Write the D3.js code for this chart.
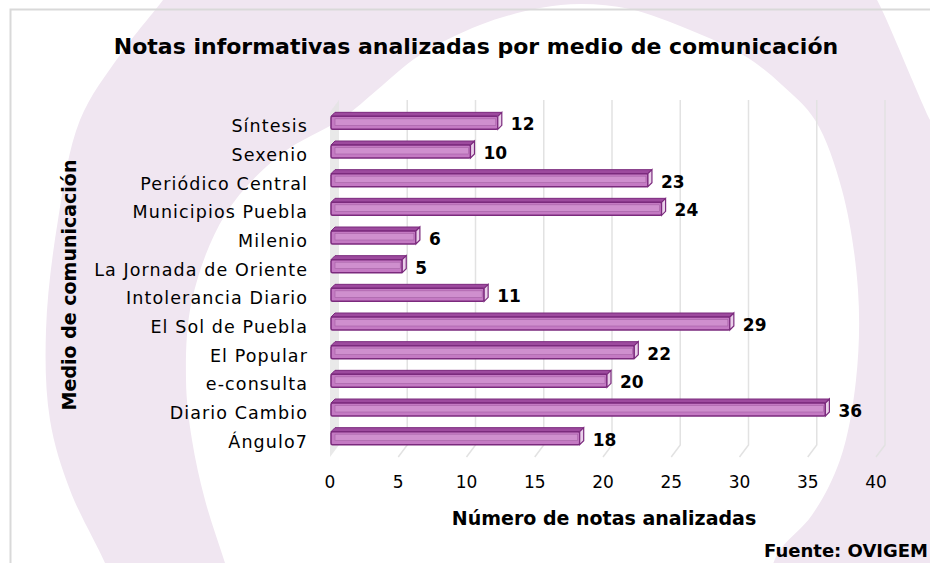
<!DOCTYPE html>
<html><head><meta charset="utf-8">
<script src="https://cdn.jsdelivr.net/npm/d3@7"></script>
<style>body{margin:0;background:#fff}svg{display:block}</style>
</head><body>
<svg id="c" width="930" height="563"></svg>
<script>
const categories = ["Síntesis","Sexenio","Periódico Central","Municipios Puebla","Milenio","La Jornada de Oriente","Intolerancia Diario","El Sol de Puebla","El Popular","e-consulta","Diario Cambio","Ángulo7"];
const values = [12,10,23,24,6,5,11,29,22,20,36,18];
const xTicks = [0,5,10,15,20,25,30,35,40];
const title = "Notas informativas analizadas por medio de comunicación";
const xTitle = "Número de notas analizadas";
const yTitle = "Medio de comunicación";
const source = "Fuente: OVIGEM";

const FONT = "'DejaVu Sans', sans-serif";
const svg = d3.select("#c");

// decorative background ring (watermark)
const lineC = d3.line().curve(d3.curveCatmullRom);
const leftEdge = lineC([[170,-10],[163,0],[120,55],[80,120],[58,220],[46,330],[50,420],[70,490],[105,563],[120,600]]);
const rightEdge = lineC([[960,180],[930,120],[877,0],[870,-10]]).replace(/^M/, "L");
const outer = leftEdge + " L960,600 " + rightEdge + " Z";
const inner = d3.line().curve(d3.curveCatmullRomClosed)([
  [240,610],[225,563],[205,500],[192,440],[186,380],[192,300],[225,215],[280,155],[343,118],[377,90],
  [420,55],[480,25],[540,8],[582,4],[630,9],[690,30],[745,56],[782,85],[815,120],[842,190],[858,290],[856,380],
  [840,460],[812,515],[780,550],[745,610]]);
svg.append("path").attr("d", outer + " " + inner).attr("fill", "#f0e6f1").attr("fill-rule", "evenodd");

// border
svg.append("rect").attr("x",10.5).attr("y",9.5).attr("width",960).attr("height",600)
  .attr("fill","none").attr("stroke","#d9d9d9").attr("stroke-width",2);

const x = d3.scaleLinear().domain([0,40]).range([330,876]);
const y = d3.scaleBand().domain(categories).range([108,452]).padding(0);
const cy = d => y(d) + y.bandwidth()/2;

const DX = 9, DY = 12, TOP = 100, FLOOR = 457;

// left wall
svg.append("path")
  .attr("d", `M${x(0)},${TOP+DY} L${x(0)+DX},${TOP} L${x(0)+DX},${FLOOR-DY} L${x(0)},${FLOOR} Z`)
  .attr("fill","#e4e4e4").attr("opacity",0.8);

// gridlines (back wall + floor)
const g = svg.append("g");
xTicks.forEach(t => {
  if (t === 0) return;
  g.append("path")
    .attr("d", `M${x(t)+DX},${TOP} L${x(t)+DX},${FLOOR-DY} L${x(t)},${FLOOR}`)
    .attr("fill","none").attr("stroke","#e2e2e2").attr("stroke-width",1.5);
});

// bars
const bars = svg.append("g");
categories.forEach((c,i) => {
  const v = values[i];
  const x0 = x(0)+1, x1 = x(v)+4, yc = cy(c);
  const top = yc-6, bot = yc+7, d = 4, e = 4;
  const b = bars.append("g");
  b.append("path").attr("d",`M${x0},${top} L${x0+d},${top-e} L${x1+d},${top-e} L${x1},${top} Z`)
    .attr("fill","#9d4a9e").attr("stroke","#7b2a7d").attr("stroke-width",1);
  b.append("rect").attr("x",x0).attr("y",top).attr("width",x1-x0).attr("height",bot-top).attr("rx",1.5)
    .attr("fill","#c47ac3").attr("stroke","#7b2a7d").attr("stroke-width",1.5);
  b.append("rect").attr("x",x0+4).attr("y",top+2.5).attr("width",Math.max(0,x1-x0-6)).attr("height",6.5)
    .attr("fill","#cf8fce").attr("stroke","#a560a5").attr("stroke-width",0.6);
  b.append("path").attr("d",`M${x1},${top} L${x1+d},${top-e} L${x1+d},${bot-e} L${x1},${bot} Z`)
    .attr("fill","#ead0ea").attr("stroke","#7b2a7d").attr("stroke-width",1.2);
  bars.append("text").attr("x", x1+d+9).attr("y", yc+8)
    .attr("font-family",FONT).attr("font-weight","bold").attr("font-size",17).attr("fill","#000")
    .text(v);
});

// category labels
svg.append("g").selectAll("text").data(categories).join("text")
  .attr("x",308).attr("y",d=>cy(d)+10).attr("text-anchor","end")
  .attr("font-family",FONT).attr("font-size",17.5).attr("letter-spacing",1.1).attr("fill","#000").text(d=>d);

// x tick labels
svg.append("g").selectAll("text").data(xTicks).join("text")
  .attr("x",d=>x(d)).attr("y",488).attr("text-anchor","middle")
  .attr("font-family",FONT).attr("font-size",17).attr("fill","#000").text(d=>d);

// titles
svg.append("text").attr("x",476).attr("y",54).attr("text-anchor","middle")
  .attr("font-family",FONT).attr("font-weight","bold").attr("font-size",22).attr("fill","#000").text(title);
svg.append("text").attr("x",604).attr("y",525).attr("text-anchor","middle")
  .attr("font-family",FONT).attr("font-weight","bold").attr("font-size",19).attr("fill","#000").text(xTitle);
svg.append("text").attr("transform","translate(76,285) rotate(-90)").attr("text-anchor","middle")
  .attr("font-family",FONT).attr("font-weight","bold").attr("font-size",19).attr("fill","#000").text(yTitle);
svg.append("text").attr("x",928).attr("y",557).attr("text-anchor","end")
  .attr("font-family",FONT).attr("font-weight","bold").attr("font-size",18).attr("fill","#000").text(source);
</script>
</body></html>
